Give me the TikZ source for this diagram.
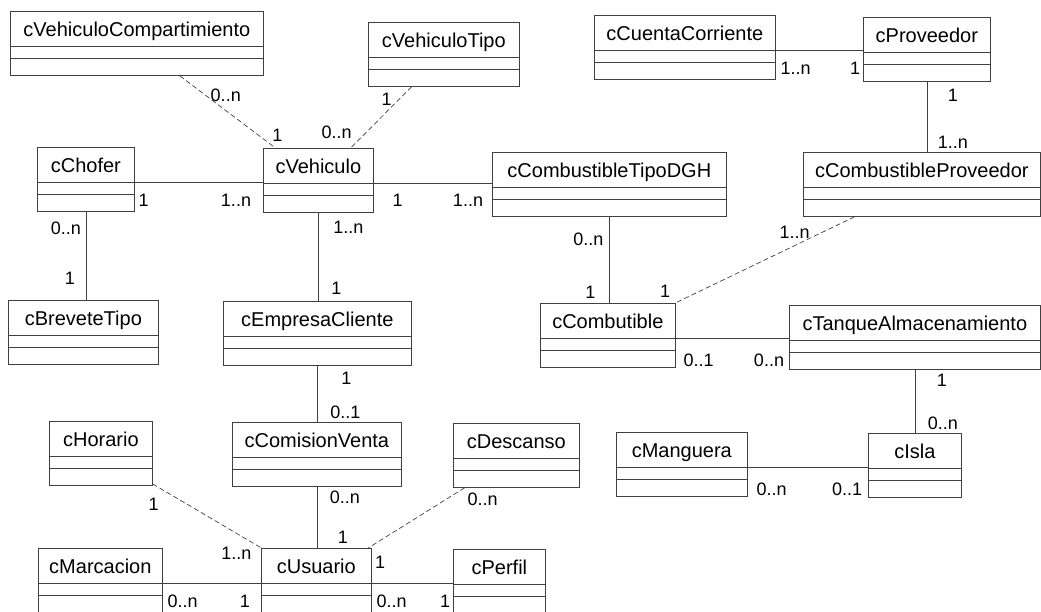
\documentclass[tikz,border=0pt]{standalone}
\usepackage{fontspec}
\setmainfont{Liberation Sans}
\usepackage{tikz}
\usetikzlibrary{positioning,shapes,shapes.multipart}
\newcommand{\clase}[1]{\rule[-9pt]{0pt}{34pt}#1\nodepart{second}\rule{0pt}{12pt}\nodepart{third}\rule{0pt}{16pt}}
\tikzstyle{cls}=[draw=black!75, rectangle split, rectangle split parts=3, anchor=north west, inner ysep=0pt, inner xsep=8pt, line width=0.7pt, font=\fontsize{20}{22}\selectfont]
\tikzstyle{assoc}=[draw=black!75, line width=0.7pt]
\tikzstyle{assocd}=[assoc, dash pattern=on 5pt off 3pt]
\tikzstyle{mult}=[inner sep=1pt, font=\fontsize{18}{20}\selectfont]

\begin{document}
\begin{tikzpicture}[x=1pt,y=-1pt]
\useasboundingbox (0,0) rectangle (1041,612);
% clases
\node[cls, minimum width=253pt] at (10,11) (vcomp) {\clase{cVehiculoCompartimiento}};
\node[cls, minimum width=151pt] at (368,22) (vtipo) {\clase{cVehiculoTipo}};
\node[cls, minimum width=97pt] at (37,147) (chofer) {\clase{cChofer}};
\node[cls, minimum width=110pt] at (263,148) (vehiculo) {\clase{cVehiculo}};
\node[cls, minimum width=234pt] at (492,152) (combtipo) {\clase{cCombustibleTipoDGH}};
\node[cls, minimum width=181pt] at (594,15) (cuenta) {\clase{cCuentaCorriente}};
\node[cls, minimum width=127pt] at (863,17) (proveedor) {\clase{cProveedor}};
\node[cls, minimum width=237pt] at (803,152) (combprov) {\clase{cCombustibleProveedor}};
\node[cls, minimum width=150pt] at (8,300) (brevete) {\clase{cBreveteTipo}};
\node[cls, minimum width=188pt] at (223,301) (empresa) {\clase{cEmpresaCliente}};
\node[cls, minimum width=135pt] at (540,303) (combutible) {\clase{cCombutible}};
\node[cls, minimum width=251pt] at (789,305) (tanque) {\clase{cTanqueAlmacenamiento}};
\node[cls, minimum width=103pt] at (49,421) (horario) {\clase{cHorario}};
\node[cls, minimum width=169pt] at (232,422) (comision) {\clase{cComisionVenta}};
\node[cls, minimum width=126pt] at (453,423) (descanso) {\clase{cDescanso}};
\node[cls, minimum width=131pt] at (616,432) (manguera) {\clase{cManguera}};
\node[cls, minimum width=93pt] at (868,433) (isla) {\clase{cIsla}};
\node[cls, minimum width=124pt] at (38,548) (marcacion) {\clase{cMarcacion}};
\node[cls, minimum width=110pt] at (261,548) (usuario) {\clase{cUsuario}};
\node[cls, minimum width=92pt] at (453,549) (perfil) {\clase{cPerfil}};

% asociaciones
\draw[assocd] (vcomp) -- node[mult, at start, xshift=46pt, yshift=-20pt] (mul1a) {0..n} node[mult, at end, xshift=2pt, yshift=13pt] (mul1b) {1} (vehiculo);
\draw[assocd] (vtipo) -- node[mult, at start, xshift=-25pt, yshift=-13pt] (mul2a) {1} node[mult, at end, xshift=-14pt, yshift=16pt] (mul2b) {0..n} (vehiculo);
\draw[assoc] (chofer.text split east) -- node[mult, at start, xshift=9pt, yshift=-18pt] (mul3a) {1} node[mult, at end, xshift=-27pt, yshift=-18pt] (mul3b) {1..n} (chofer.text split east -| vehiculo.west);
\draw[assoc] (vehiculo.text split east) -- node[mult, at start, xshift=24pt, yshift=-17pt] (mul4a) {1} node[mult, at end, xshift=-24pt, yshift=-17pt] (mul4b) {1..n} (vehiculo.text split east -| combtipo.west);
\draw[assoc] (chofer.south) -- node[mult, at start, xshift=-20pt, yshift=-17pt] (mul5a) {0..n} node[mult, at end, xshift=-16pt, yshift=22pt] (mul5b) {1} (chofer.south |- brevete.north);
\draw[assoc] (vehiculo.south) -- node[mult, at start, xshift=30pt, yshift=-15pt] (mul6a) {1..n} node[mult, at end, xshift=18pt, yshift=13pt] (mul6b) {1} (vehiculo.south |- empresa.north);
\draw[assoc] (cuenta.text split east) -- node[mult, at start, xshift=20pt, yshift=-18pt] (mul7a) {1..n} node[mult, at end, xshift=-8pt, yshift=-18pt] (mul7b) {1} (cuenta.text split east -| proveedor.west);
\draw[assoc] (proveedor.south) -- node[mult, at start, xshift=26pt, yshift=-14pt] (mul8a) {1} node[mult, at end, xshift=26pt, yshift=10pt] (mul8b) {1..n} (proveedor.south |- combprov.north);
\draw[assoc] (combtipo.south) -- node[mult, at start, xshift=-21pt, yshift=-23pt] (mul9a) {0..n} node[mult, at end, xshift=-19pt, yshift=11pt] (mul9b) {1} (combtipo.south |- combutible.north);
\draw[assocd] (combprov) -- node[mult, at start, xshift=-60pt, yshift=-16pt] (mul10a) {1..n} node[mult, at end, xshift=-10pt, yshift=12pt] (mul10b) {1} (combutible);
\draw[assoc] (combutible.text split east) -- node[mult, at start, xshift=23pt, yshift=-22pt] (mul11a) {0..1} node[mult, at end, xshift=-20pt, yshift=-22pt] (mul11b) {0..n} (combutible.text split east -| tanque.west);
\draw[assoc] (tanque.south) -- node[mult, at start, xshift=27pt, yshift=-11pt] (mul12a) {1} node[mult, at end, xshift=28pt, yshift=10pt] (mul12b) {0..n} (tanque.south |- isla.north);
\draw[assoc] (manguera.text split east) -- node[mult, at start, xshift=24pt, yshift=-22pt] (mul13a) {0..n} node[mult, at end, xshift=-21pt, yshift=-22pt] (mul13b) {0..1} (manguera.text split east -| isla.west);
\draw[assoc] (empresa.south) -- node[mult, at start, xshift=29pt, yshift=-13pt] (mul14a) {1} node[mult, at end, xshift=28pt, yshift=10pt] (mul14b) {0..1} (empresa.south |- comision.north);
\draw[assoc] (comision.south) -- node[mult, at start, xshift=28pt, yshift=-11pt] (mul15a) {0..n} node[mult, at end, xshift=26pt, yshift=11pt] (mul15b) {1} (comision.south |- usuario.north);
\draw[assocd] (horario) -- node[mult, at start, xshift=1pt, yshift=-20pt] (mul16a) {1} node[mult, at end, xshift=-25pt, yshift=-5pt] (mul16b) {1..n} (usuario);
\draw[assocd] (descanso) -- node[mult, at start, xshift=18pt, yshift=-12pt] (mul17a) {0..n} node[mult, at end, xshift=12pt, yshift=-14pt] (mul17b) {1} (usuario);
\draw[assoc] (marcacion.text split east) -- node[mult, at start, xshift=20pt, yshift=-18pt] (mul18a) {0..n} node[mult, at end, xshift=-16pt, yshift=-18pt] (mul18b) {1} (marcacion.text split east -| usuario.west);
\draw[assoc] (usuario.text split east) -- node[mult, at start, xshift=20pt, yshift=-18pt] (mul19a) {0..n} node[mult, at end, xshift=-8pt, yshift=-18pt] (mul19b) {1} (usuario.text split east -| perfil.west);
\end{tikzpicture}
\end{document}
